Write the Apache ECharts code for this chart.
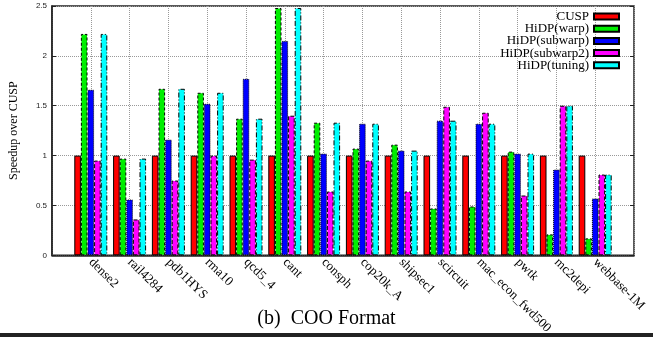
<!DOCTYPE html>
<html>
<head>
<meta charset="utf-8">
<script src="https://cdn.jsdelivr.net/npm/echarts@6/dist/echarts.min.js"></script>
<style>
html,body{margin:0;padding:0;background:#fff;}
#chart{width:653px;height:337px;}
</style>
</head>
<body>
<div id="chart"></div>
<script>
const categories = ['dense2','rail4284','pdb1HYS','rma10','qcd5_4','cant','consph','cop20k_A','shipsec1','scircuit','mac_econ_fwd500','pwtk','mc2depi','webbase-1M'];
const seriesNames = ['CUSP','HiDP(warp)','HiDP(subwarp)','HiDP(subwarp2)','HiDP(tuning)'];
const cusp     = [1,1,1,1,1,1,1,1,1,1,1,1,1,1];
const warp     = [2.22,0.97,1.67,1.63,1.37,2.48,1.33,1.07,1.11,0.47,0.49,1.04,0.21,0.17];
const subwarp  = [1.66,0.56,1.16,1.52,1.77,2.15,1.02,1.32,1.05,1.35,1.32,1.02,0.86,0.57];
const subwarp2 = [0.95,0.36,0.75,1.00,0.96,1.40,0.64,0.95,0.64,1.49,1.43,0.60,1.50,0.81];
const tuning   = [2.22,0.97,1.67,1.63,1.37,2.48,1.33,1.32,1.05,1.35,1.32,1.02,1.50,0.81];
const yTicks = [0,0.5,1,1.5,2,2.5];
const caption = '(b)  COO Format';
const yTitle = 'Speedup over CUSP';

const allValues = [cusp, warp, subwarp, subwarp2, tuning];
const colors = ['#ff0000','#00ee00','#0000ff','#ff00ff','#00ffff'];
const borders = ['solid',[3,2],[1,1],[4,2],[5,2,1,2]];
const xcats = [''].concat(categories).concat(['']);

const chart = echarts.init(document.getElementById('chart'), null, {renderer:'canvas'});
const serif = '"Liberation Serif","DejaVu Serif",serif';
const sans = '"Liberation Sans","DejaVu Sans",sans-serif';

const series = seriesNames.map((n,i)=>({
  name:n, type:'bar', barWidth:6.6, barGap:'0%',
  data:[null].concat(allValues[i]).concat([null]),
  itemStyle:{color:colors[i], borderColor:'#000', borderWidth:1, borderType:borders[i]},
  emphasis:{disabled:true}, animation:false
}));

chart.setOption({
  animation:false,
  backgroundColor:'#fff',
  grid:{left:52, right:19, top:6, bottom:79, show:true, borderColor:'#222', borderWidth:1.5, backgroundColor:'transparent'},
  legend:{
    data:seriesNames.map(n=>({name:n, icon:'rect'})), orient:'vertical', right:28, top:5, align:'right',
    itemWidth:25, itemHeight:6, itemGap:-0.8,
    textStyle:{fontFamily:serif, fontSize:13, color:'#000', lineHeight:12, padding:[0,0,0,0]},
    selectedMode:false
  },
  xAxis:{
    type:'category', data:xcats, boundaryGap:false,
    axisLine:{show:true, lineStyle:{color:'#222', width:1.5}},
    axisTick:{show:false},
    axisLabel:{interval:0, rotate:-45, fontFamily:serif, fontSize:13, color:'#000', margin:5},
    splitLine:{show:true, lineStyle:{color:'#999', type:[1,1], width:1}}
  },
  yAxis:[{
    type:'value', min:0, max:2.5, interval:0.5,
    name:yTitle, nameLocation:'middle', nameGap:32, nameTextStyle:{fontFamily:serif, fontSize:12, color:'#000'},
    axisLine:{show:true, lineStyle:{color:'#222', width:1.5}},
    axisTick:{show:true, inside:true, length:4, lineStyle:{color:'#222'}},
    axisLabel:{fontFamily:sans, fontSize:8, color:'#222', margin:5, formatter:v=>String(v)},
    splitLine:{show:true, lineStyle:{color:'#999', type:[1,1], width:1}}
  },{
    type:'value', min:0, max:2.5, interval:0.5, position:'right',
    axisLine:{show:false},
    axisTick:{show:true, inside:true, length:4, lineStyle:{color:'#222'}},
    axisLabel:{show:false}, splitLine:{show:false}
  }],
  series:series,
  graphic:[
    {type:'text', left:'center', top:309, style:{text:caption, font:'20px '+serif, fill:'#000'}},
    {type:'rect', shape:{x:0, y:333, width:653, height:4}, style:{fill:'#222'}}
  ]
});
</script>
</body>
</html>
